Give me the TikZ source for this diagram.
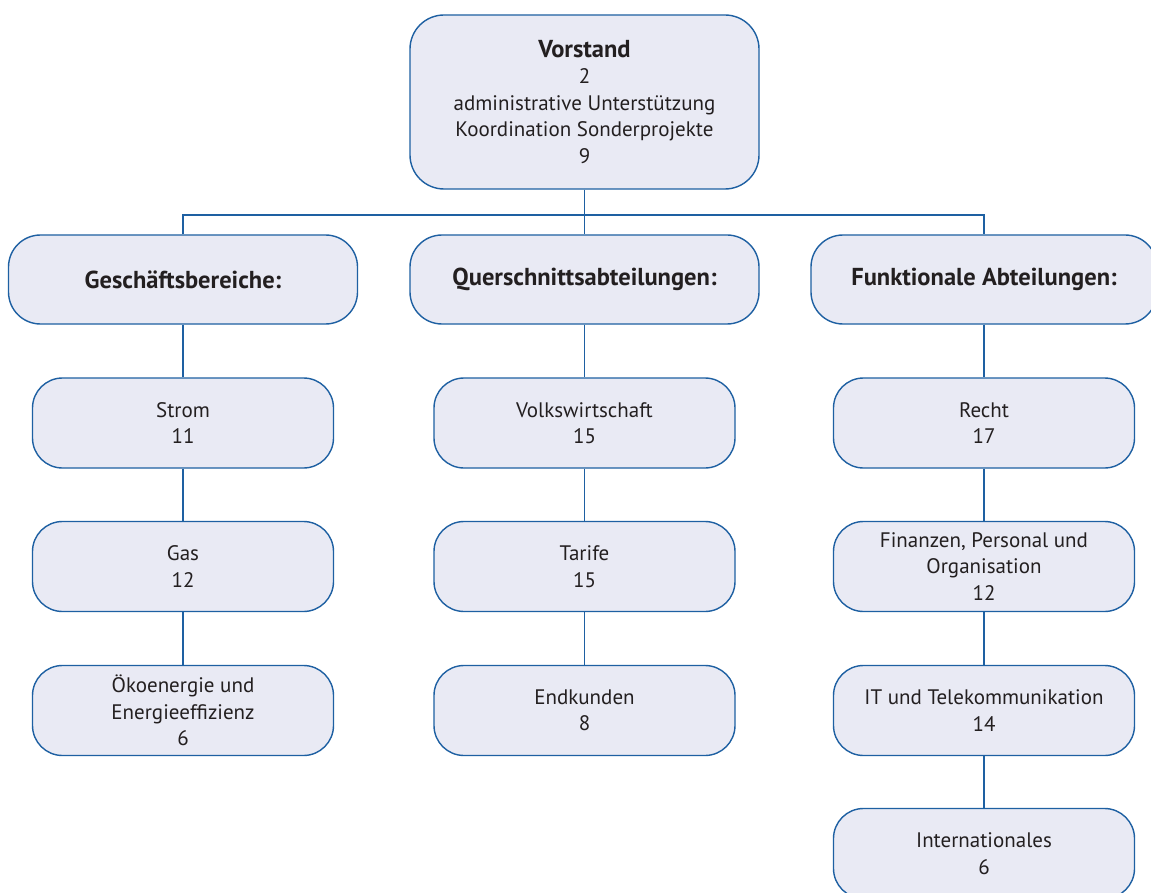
\documentclass[tikz,border=0pt]{standalone}
\usepackage{fontspec}
\setmainfont{PT Sans}
\usetikzlibrary{calc}
\definecolor{boxline}{RGB}{30,96,162}
\definecolor{boxfill}{RGB}{233,234,244}
\definecolor{txt}{RGB}{35,31,32}
\newcommand{\hd}[1]{{\fontsize{24.5}{26.5}\selectfont\bfseries #1}}
\begin{document}
\begin{tikzpicture}[x=1pt,y=-1pt,
  box/.style={draw=boxline, fill=boxfill, line width=1.4pt, rounded corners=32pt,
    align=center, inner sep=0pt, text=txt, font=\fontsize{21}{26.5}\selectfont},
  bigbox/.style={box, minimum width=349pt, minimum height=89pt},
  unitbox/.style={box, rounded corners=30pt, minimum width=301pt, minimum height=90pt},
  conn/.style={draw=boxline, line width=1.4pt}]
\useasboundingbox (0,0) rectangle (1151,893);
\fill[white] (0,0) rectangle (1151,893);
% top
\node[bigbox, minimum height=174pt, rounded corners=34pt] (v) at (584.5,102)
  {\hd{Vorstand}\\2\\administrative Unterstützung\\Koordination Sonderprojekte\\9};
% level 2
\node[bigbox] (g) at (183,279.5) {\hd{Geschäftsbereiche:}};
\node[bigbox] (q) at (584.5,279.5) {\hd{Querschnittsabteilungen:}};
\node[bigbox, minimum width=346pt] (f) at (984,279.5) {\hd{Funktionale Abteilungen:}};
% left column
\node[unitbox] (g1) at (183,423) {Strom\\11};
\node[unitbox] (g2) at (183,566.5) {Gas\\12};
\node[unitbox] (g3) at (183,710.5) {Ökoenergie und\\Energieeffizienz\\6};
% middle column
\node[unitbox] (q1) at (584.5,423) {Volkswirtschaft\\15};
\node[unitbox] (q2) at (584.5,566.5) {Tarife\\15};
\node[unitbox] (q3) at (584.5,710.5) {Endkunden\\8};
% right column
\node[unitbox] (f1) at (984,423) {Recht\\17};
\node[unitbox] (f2) at (984,566.5) {Finanzen, Personal und\\Organisation\\12};
\node[unitbox] (f3) at (984,710.5) {IT und Telekommunikation\\14};
\node[unitbox] (f4) at (984,853.5) {Internationales\\6};
% connectors
\coordinate (bus) at (584.5,215);
\draw[conn] (v.south) -- (q.north);
\draw[conn] (g.north) |- (bus) -| (f.north);
\draw[conn] (g.south) -- (g1.north);
\draw[conn] (g1.south) -- (g2.north);
\draw[conn] (g2.south) -- (g3.north);
\draw[conn] (q.south) -- (q1.north);
\draw[conn] (q1.south) -- (q2.north);
\draw[conn] (q2.south) -- (q3.north);
\draw[conn] (f.south) -- (f1.north);
\draw[conn] (f1.south) -- (f2.north);
\draw[conn] (f2.south) -- (f3.north);
\draw[conn] (f3.south) -- (f4.north);
\end{tikzpicture}
\end{document}
